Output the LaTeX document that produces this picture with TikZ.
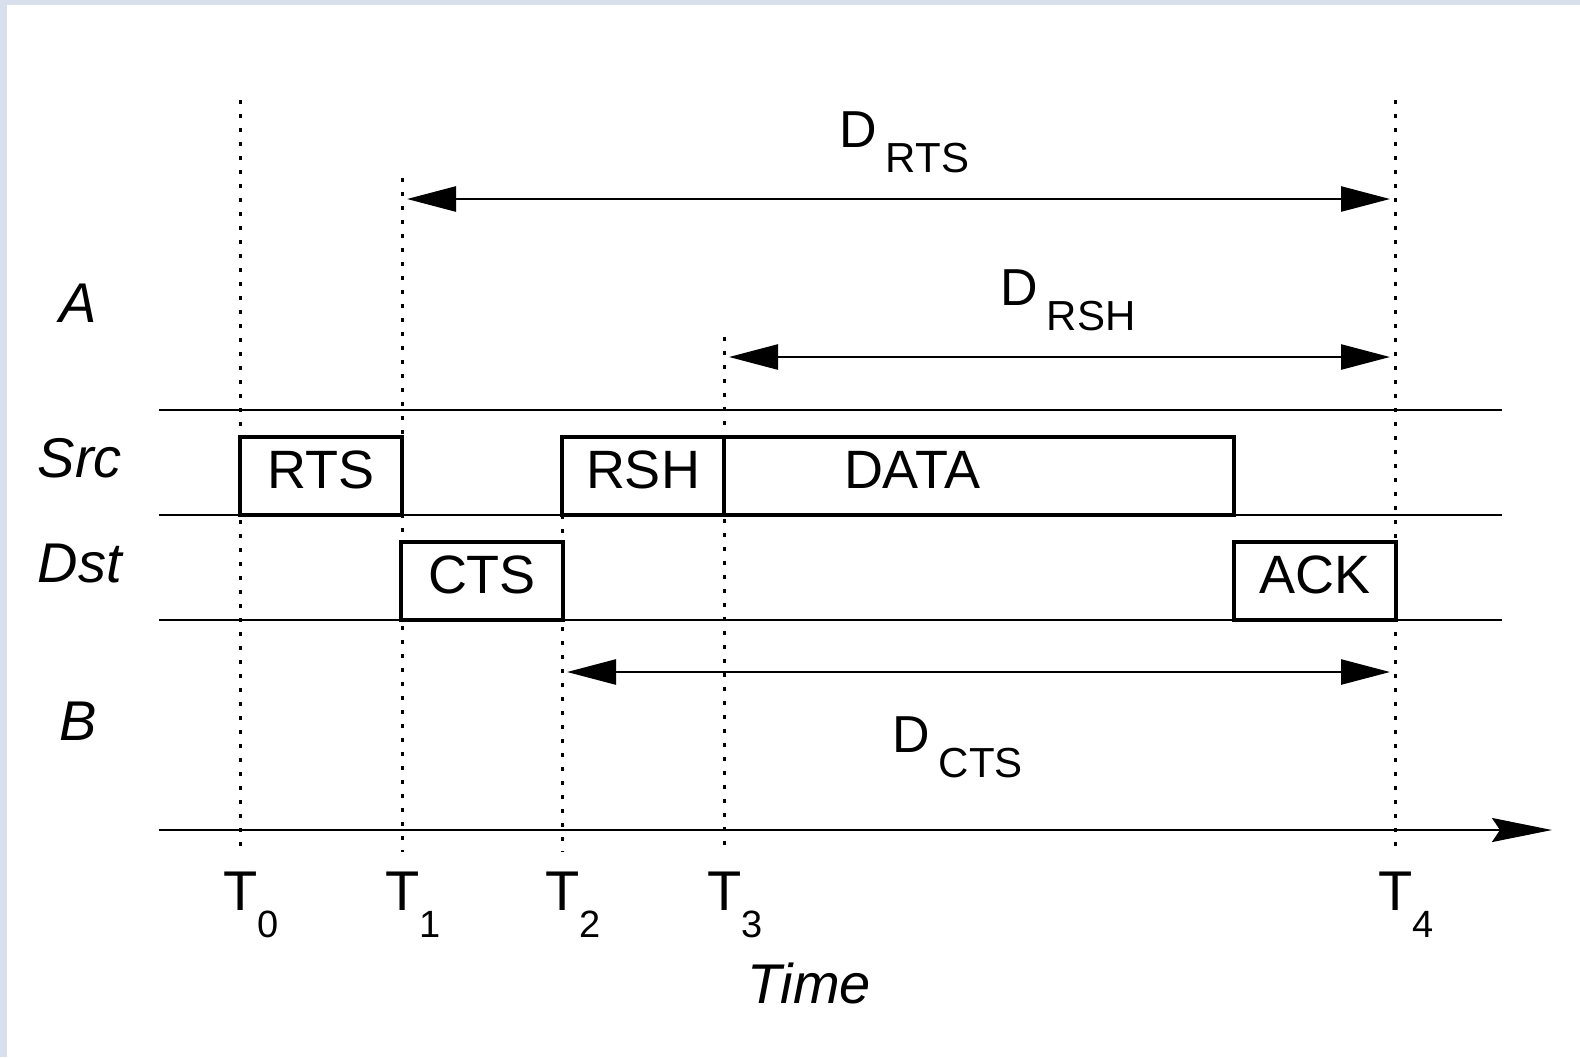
\documentclass[tikz,border=0pt]{standalone}
\usepackage{fontspec}
\setmainfont{Liberation Sans}
\usetikzlibrary{positioning, arrows.meta}

\definecolor{framebg}{RGB}{216,224,238}
\newcommand{\subfont}{\fontsize{21}{25}\selectfont}
\newcommand{\numfont}{\fontsize{19}{23}\selectfont}
\newcommand{\durlabel}[1]{D\kern4.5pt\raisebox{-12.5pt}{\subfont #1}}

\begin{document}
\begin{tikzpicture}[x=0.5pt, y=-0.5pt, font=\fontsize{28}{34}\selectfont,
    pkt/.style={draw=black, fill=white, line width=2pt, inner sep=0pt, minimum width=81pt, minimum height=39pt, text depth=6pt, font=\fontsize{27}{32}\selectfont},
    lane/.style={line width=1.1pt},
    instant/.style={line width=1.5pt, dash pattern=on 2pt off 5pt},
    span/.style={line width=1.3pt, {Triangle[length=24.5pt, width=12.5pt]}-{Triangle[length=24.5pt, width=12.5pt]}, shorten <=2.5pt, shorten >=2.5pt},
    who/.style={anchor=base, inner sep=0pt, font=\fontsize{28}{34}\selectfont\itshape},
    dur/.style={anchor=base west, inner sep=0pt, font=\fontsize{26}{31}\selectfont}]

    % frame
    \fill[framebg] (0,0) rectangle (1580,1057);
    \fill[white] (7,5) rectangle (1580,1057);

    % time instants
    \foreach \n/\x/\top in {0/240/100, 1/402/178, 2/562/515, 3/724/337, 4/1395/100} {
        \coordinate (top\n) at (\x,\top);
        \coordinate (bot\n) at (\x,852);
        \draw[instant] (top\n) -- (bot\n);
        \node[anchor=base west, inner sep=0pt] (tl\n) at (\x-17,910) {T\raisebox{-13.5pt}{\numfont\n}};
    }

    % lanes
    \foreach \y [count=\i] in {410, 515, 620} {
        \draw[lane] (159,\y) -- (1502,\y);
    }

    % time axis
    \coordinate (ax0) at (159,830);
    \coordinate (ax1) at (1552,830);
    \draw[line width=1.2pt, -{Stealth[length=30pt, width=12pt, inset=4pt]}] (ax0) -- (ax1);

    % frames
    \node[pkt] (rts) at (321,476) {RTS};
    \node[pkt] (rsh) at (643,476) {RSH};
    \node[pkt, minimum width=255pt, label={[xshift=-33.5pt, text depth=6pt, font=\fontsize{27}{32}\selectfont]center:DATA}] (data) at (979,476) {};
    \node[pkt] (cts) at (482,581) {CTS};
    \node[pkt] (ack) at (1315,581) {ACK};

    % durations
    \coordinate (rtsa) at (402,199);
    \coordinate (rtsb) at (1395,199);
    \coordinate (rsha) at (724,357);
    \coordinate (rshb) at (1395,357);
    \coordinate (ctsa) at (562,672);
    \coordinate (ctsb) at (1395,672);
    \draw[span] (rtsa) -- (rtsb);
    \draw[span] (rsha) -- (rshb);
    \draw[span] (ctsa) -- (ctsb);
    \node[dur] (drts) at (839,147) {\durlabel{RTS}};
    \node[dur] (drsh) at (1000,305) {\durlabel{RSH}};
    \node[dur] (dcts) at (892,752) {\durlabel{CTS}};

    % stations
    \node[who] (a) at (78,322) {A};
    \node[who] (src) at (80,477) {Src};
    \node[who] (dst) at (80,582) {Dst};
    \node[who] (b) at (78,740) {B};
    \node[who] (time) at (809,1003) {Time};
\end{tikzpicture}
\end{document}
